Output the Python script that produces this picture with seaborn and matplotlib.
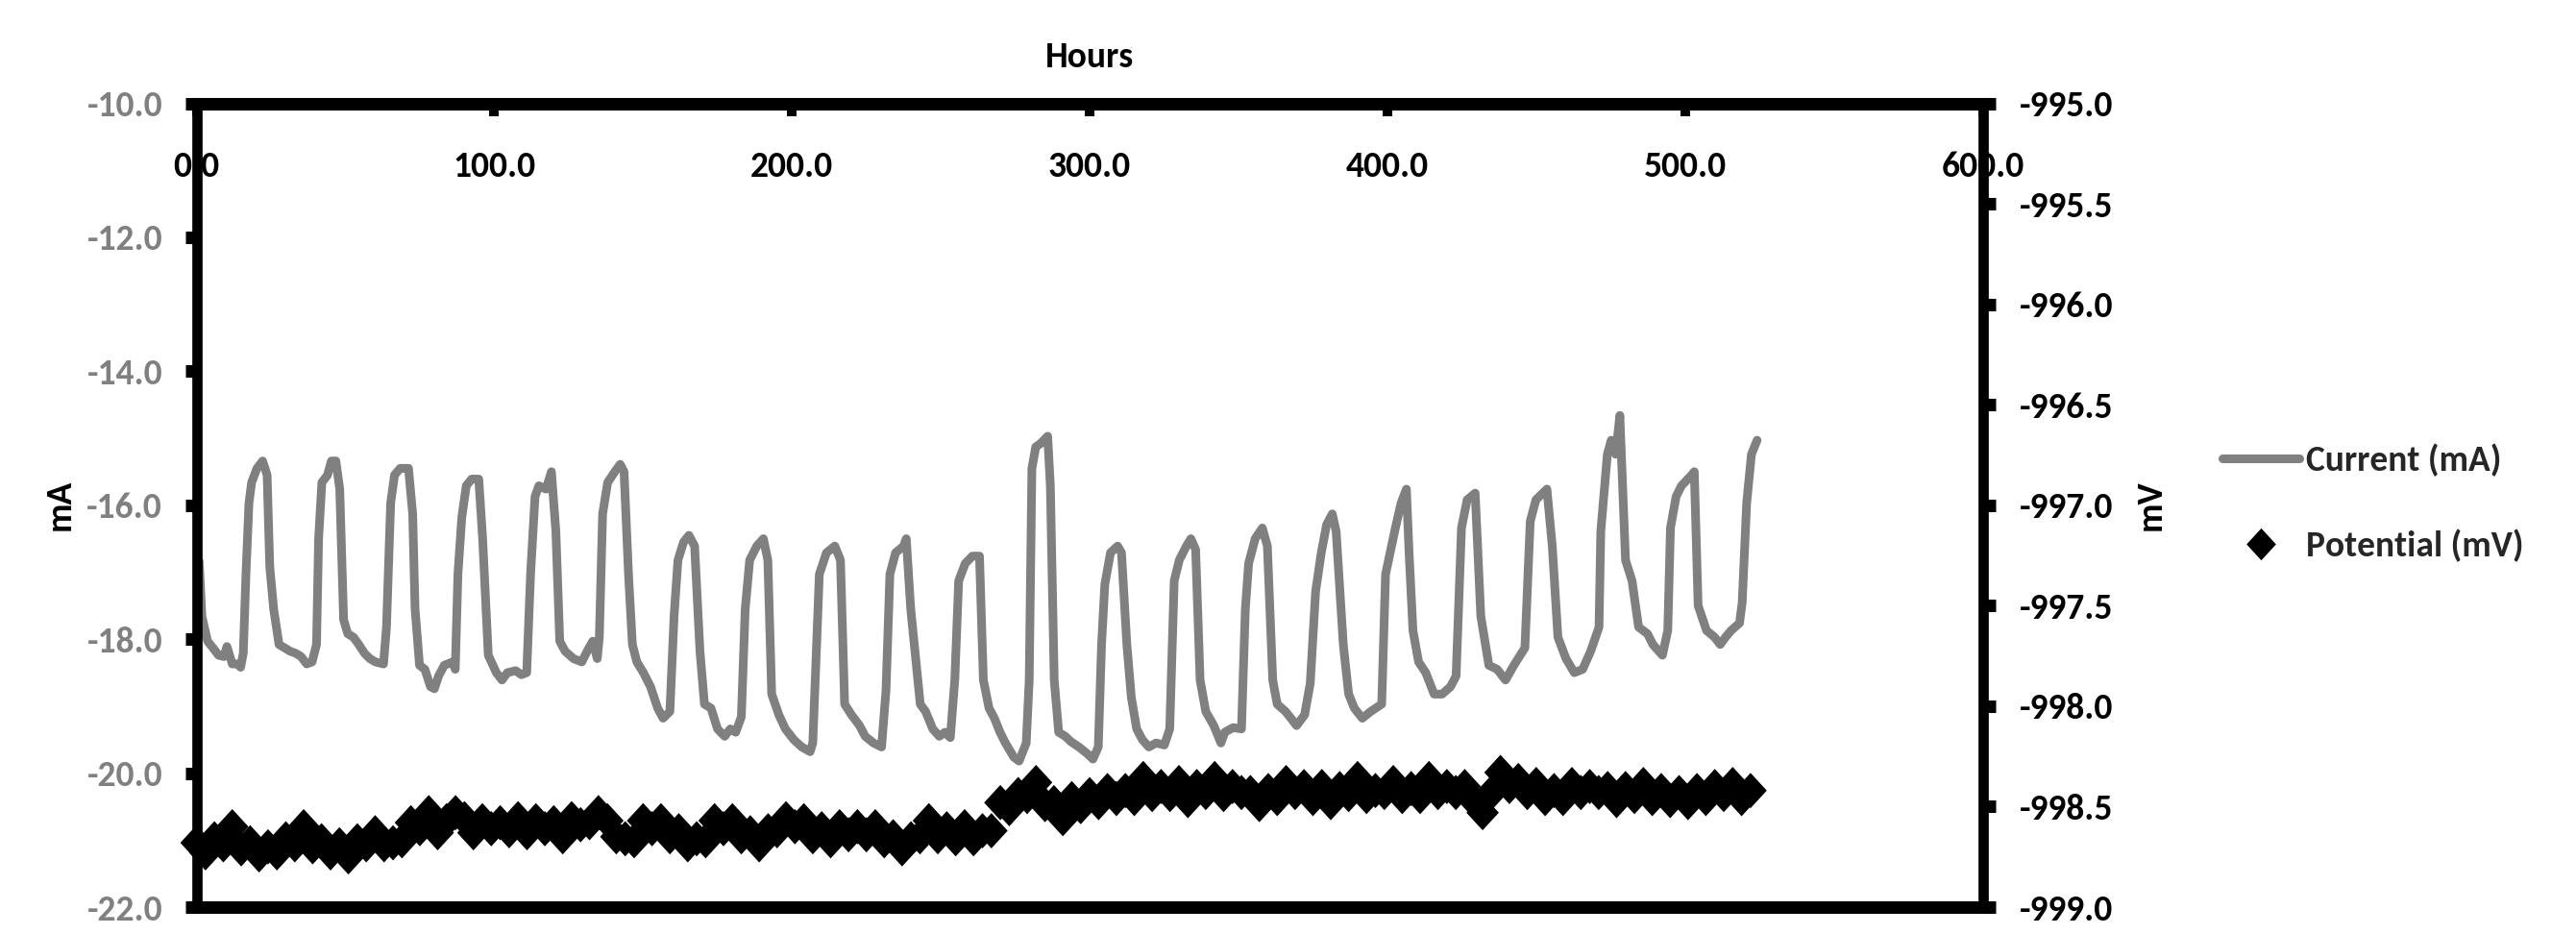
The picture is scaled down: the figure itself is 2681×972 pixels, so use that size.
import matplotlib
matplotlib.use("Agg")
import matplotlib.pyplot as plt
from matplotlib.lines import Line2D
from matplotlib.ticker import FormatStrFormatter
import seaborn as sns

# ── data ────────────────────────────────────────────────
current_hours = [
    0.9, 1.8, 3.7, 5.5, 7.4, 9.2, 10.2, 11.1, 12.0, 13.9,
    14.8, 15.7, 16.6, 17.6, 18.5, 20.3, 22.2, 23.7, 24.6, 25.9,
    27.7, 29.6, 31.4, 33.3, 35.1, 37.0, 38.8, 40.3, 41.0, 42.1,
    44.0, 45.3, 46.8, 48.1, 49.4, 50.8, 52.7, 54.5, 56.4, 58.2,
    60.1, 62.8, 63.8, 65.2, 66.5, 68.4, 71.2, 72.6, 73.4, 74.9,
    76.7, 78.6, 79.9, 81.3, 83.2, 86.0, 86.9, 87.8, 89.1, 90.6,
    92.4, 94.8, 96.1, 98.0, 100.7, 102.6, 104.4, 107.2, 109.1, 110.9,
    112.2, 113.7, 115.0, 117.4, 119.2, 120.7, 122.0, 123.8, 126.6, 129.4,
    131.2, 133.1, 134.6, 135.3, 136.4, 138.1, 140.5, 142.3, 143.6, 145.1,
    146.4, 147.9, 150.1, 152.5, 154.9, 156.7, 159.0, 160.4, 161.7, 163.6,
    165.4, 167.3, 169.1, 170.6, 172.8, 175.0, 177.4, 179.3, 181.1, 183.0,
    184.3, 185.8, 188.2, 190.4, 191.9, 193.2, 195.6, 197.8, 200.6, 203.3,
    206.1, 207.0, 208.3, 209.2, 211.6, 214.4, 216.3, 217.7, 220.0, 222.7,
    224.6, 227.4, 230.1, 231.6, 232.9, 234.8, 237.5, 238.4, 239.9, 243.1,
    244.9, 247.3, 249.5, 251.4, 253.2, 254.7, 256.0, 258.2, 260.6, 263.0,
    264.3, 266.2, 268.0, 269.9, 271.7, 274.5, 276.3, 278.7, 279.7, 280.6,
    281.9, 283.5, 285.9, 286.8, 288.1, 289.6, 291.8, 293.7, 296.4, 299.2,
    301.1, 302.9, 304.0, 305.1, 307.0, 309.4, 310.7, 312.5, 314.0, 315.8,
    317.7, 319.9, 322.3, 325.1, 326.9, 328.4, 330.1, 332.5, 334.0, 335.6,
    337.1, 339.0, 341.7, 344.1, 345.4, 348.2, 351.0, 352.3, 353.4, 355.6,
    358.0, 359.7, 361.5, 363.0, 365.8, 367.6, 369.5, 372.2, 374.1, 375.9,
    377.8, 379.6, 381.5, 382.8, 385.2, 387.0, 388.9, 391.6, 394.4, 398.1,
    399.4, 402.7, 404.6, 406.4, 407.3, 408.6, 410.5, 412.9, 415.7, 418.4,
    421.2, 423.1, 424.9, 426.8, 429.5, 431.4, 434.1, 436.9, 439.7, 442.5,
    446.2, 448.0, 449.9, 453.6, 455.4, 457.3, 460.0, 462.8, 465.6, 468.3,
    471.1, 471.7, 472.6, 473.9, 475.2, 476.7, 478.1, 480.0, 482.2, 484.4,
    487.4, 489.2, 492.4, 494.2, 495.1, 497.0, 498.8, 502.2, 503.1, 504.4,
    507.2, 509.9, 511.8, 513.6, 515.5, 518.3, 519.2, 520.7, 522.3, 524.2,
]
current_ma = [
    -16.84, -17.66, -18.03, -18.13, -18.24, -18.26, -18.11, -18.24, -18.37, -18.37,
    -18.42, -18.21, -17.03, -15.97, -15.66, -15.45, -15.34, -15.55, -16.92, -17.55,
    -18.08, -18.13, -18.18, -18.21, -18.26, -18.37, -18.34, -18.08, -16.50, -15.66,
    -15.55, -15.34, -15.34, -15.76, -17.71, -17.92, -17.97, -18.08, -18.21, -18.29,
    -18.34, -18.37, -17.82, -15.97, -15.55, -15.45, -15.45, -16.13, -17.55, -18.39,
    -18.45, -18.71, -18.74, -18.55, -18.39, -18.34, -18.45, -17.03, -16.18, -15.71,
    -15.61, -15.61, -16.50, -18.24, -18.50, -18.61, -18.50, -18.47, -18.53, -18.50,
    -17.03, -15.87, -15.71, -15.76, -15.50, -16.39, -18.03, -18.18, -18.29, -18.34,
    -18.18, -18.03, -18.29, -17.97, -16.13, -15.66, -15.50, -15.39, -15.50, -17.03,
    -18.08, -18.34, -18.50, -18.71, -19.03, -19.18, -19.08, -17.66, -16.82, -16.55,
    -16.45, -16.61, -18.18, -18.97, -19.03, -19.34, -19.45, -19.34, -19.39, -19.16,
    -17.55, -16.82, -16.61, -16.50, -16.82, -18.82, -19.13, -19.34, -19.50, -19.61,
    -19.68, -19.55, -18.08, -17.03, -16.71, -16.61, -16.82, -18.97, -19.13, -19.29,
    -19.45, -19.55, -19.61, -18.76, -17.03, -16.71, -16.61, -16.50, -17.55, -18.97,
    -19.08, -19.34, -19.45, -19.39, -19.47, -18.61, -17.13, -16.87, -16.76, -16.76,
    -18.61, -19.03, -19.18, -19.39, -19.55, -19.76, -19.82, -19.55, -18.61, -15.45,
    -15.13, -15.08, -14.97, -15.71, -18.61, -19.39, -19.45, -19.53, -19.61, -19.71,
    -19.79, -19.61, -18.08, -17.18, -16.71, -16.61, -16.71, -18.08, -18.87, -19.34,
    -19.50, -19.61, -19.55, -19.58, -19.34, -17.13, -16.82, -16.61, -16.50, -16.66,
    -18.61, -19.08, -19.29, -19.55, -19.39, -19.32, -19.34, -17.55, -16.87, -16.50,
    -16.34, -16.61, -18.61, -18.97, -19.08, -19.18, -19.29, -19.13, -18.66, -17.29,
    -16.71, -16.29, -16.13, -16.39, -18.08, -18.82, -19.03, -19.18, -19.08, -18.97,
    -17.03, -16.34, -15.97, -15.76, -16.71, -17.87, -18.34, -18.50, -18.82, -18.82,
    -18.71, -18.55, -16.34, -15.92, -15.82, -17.66, -18.39, -18.45, -18.61, -18.39,
    -18.13, -16.24, -15.92, -15.76, -16.61, -17.97, -18.29, -18.50, -18.45, -18.18,
    -17.82, -16.39, -15.92, -15.24, -15.03, -15.24, -14.66, -16.82, -17.13, -17.82,
    -17.92, -18.08, -18.24, -17.87, -16.34, -15.87, -15.71, -15.55, -15.50, -17.50,
    -17.87, -17.97, -18.08, -17.97, -17.87, -17.76, -17.45, -15.97, -15.24, -15.03,
]

# potential logged every 3 h, 0 .. 522 h
potential_hours = list(range(0, 523, 3))
potential_mv = [
    -998.68, -998.73, -998.66, -998.69, -998.60, -998.71, -998.68, -998.74, -998.70, -998.73,
    -998.66, -998.69, -998.60, -998.70, -998.67, -998.73, -998.69, -998.75, -998.67, -998.69,
    -998.63, -998.69, -998.68, -998.67, -998.58, -998.61, -998.53, -998.63, -998.57, -998.53,
    -998.56, -998.63, -998.57, -998.61, -998.58, -998.62, -998.56, -998.63, -998.57, -998.61,
    -998.58, -998.65, -998.56, -998.59, -998.58, -998.53, -998.57, -998.65, -998.66, -998.67,
    -998.57, -998.61, -998.57, -998.65, -998.62, -998.69, -998.66, -998.67, -998.57, -998.61,
    -998.57, -998.65, -998.63, -998.69, -998.62, -998.62, -998.56, -998.60, -998.57, -998.65,
    -998.61, -998.67, -998.60, -998.64, -998.60, -998.64, -998.60, -998.67, -998.65, -998.71,
    -998.66, -998.65, -998.57, -998.65, -998.61, -998.66, -998.60, -998.66, -998.62, -998.62,
    -998.48, -998.51, -998.44, -998.45, -998.38, -998.49, -998.48, -998.56, -998.46, -998.50,
    -998.44, -998.48, -998.42, -998.46, -998.42, -998.46, -998.36, -998.44, -998.40, -998.44,
    -998.38, -998.47, -998.40, -998.43, -998.36, -998.44, -998.40, -998.43, -998.43, -998.49,
    -998.42, -998.46, -998.38, -998.43, -998.40, -998.46, -998.40, -998.48, -998.41, -998.44,
    -998.36, -998.45, -998.42, -998.43, -998.38, -998.45, -998.41, -998.45, -998.36, -998.43,
    -998.40, -998.43, -998.40, -998.47, -998.53, -998.43, -998.33, -998.40, -998.37, -998.43,
    -998.39, -998.46, -998.42, -998.46, -998.39, -998.43, -998.40, -998.43, -998.41, -998.47,
    -998.41, -998.45, -998.39, -998.46, -998.42, -998.47, -998.43, -998.48, -998.42, -998.46,
    -998.40, -998.44, -998.39, -998.46, -998.42,
]

hour_ticks = [0, 100, 200, 300, 400, 500, 600]
ma_ticks = [-22, -20, -18, -16, -14, -12, -10]
mv_ticks = [-999.0, -998.5, -998.0, -997.5, -997.0, -996.5, -996.0, -995.5, -995.0]
series_labels = ["Current (mA)", "Potential (mV)"]

# ── style ───────────────────────────────────────────────
sns.set_theme(style="ticks")
plt.rcParams["font.family"] = ["Carlito", "Lato", "DejaVu Sans"]
plt.rcParams["font.weight"] = "heavy"

GRAY = "#808080"
FS = 27
DIAMOND = [(0, 1), (0.92, 0), (0, -1), (-0.92, 0)]

fig = plt.figure(figsize=(26.81, 9.72), dpi=100)
ax = fig.add_axes([0.0763, 0.0288, 0.6934, 0.8606])
ax2 = ax.twinx()

sns.lineplot(x=current_hours, y=current_ma, ax=ax, color=GRAY,
             linewidth=6.5, legend=False)
for ln in ax.lines:
    ln.set_linewidth(6.5)
    ln.set_solid_joinstyle("round")
    ln.set_solid_capstyle("round")

sns.scatterplot(x=potential_hours, y=potential_mv, ax=ax2, marker=DIAMOND,
                s=700, color="black", edgecolor="none", linewidth=0,
                clip_on=False, legend=False)

# ── axes ────────────────────────────────────────────────
ax.set_xlim(0, 600)
ax.set_xticks(hour_ticks)
ax.xaxis.set_major_formatter(FormatStrFormatter("%.1f"))
ax.xaxis.tick_top()
ax.tick_params(axis="x", top=True, bottom=False, labeltop=True, labelbottom=False,
               direction="in", length=9, width=7.2, color="black",
               labelsize=FS, labelcolor="black", pad=-47.2)
for lab in ax.get_xticklabels():
    lab.set_verticalalignment("center")

ax.set_ylim(-22, -10)
ax.set_yticks(ma_ticks)
ax.yaxis.set_major_formatter(FormatStrFormatter("%.1f"))
ax.tick_params(axis="y", left=True, right=False, direction="out", length=8.3,
               width=9.4, color="black", labelsize=FS, labelcolor=GRAY, pad=17.3)

ax2.set_ylim(-999, -995)
ax2.set_yticks(mv_ticks)
ax2.yaxis.set_major_formatter(FormatStrFormatter("%.1f"))
ax2.tick_params(axis="y", right=True, left=False, direction="out", length=9.7,
                width=9.4, color="black", labelsize=FS, labelcolor="black", pad=18)

for s in ("top", "bottom"):
    ax.spines[s].set_linewidth(9.4)
    ax.spines[s].set_color("black")
ax.spines["left"].set_linewidth(7.7)
ax.spines["left"].set_color("black")
ax.spines["right"].set_visible(False)
for s in ("left", "top", "bottom"):
    ax2.spines[s].set_visible(False)
ax2.spines["right"].set_linewidth(7.7)
ax2.spines["right"].set_color("black")

ax.set_xlabel("Hours", fontsize=FS, fontweight="heavy", color="black")
ax.xaxis.set_label_position("top")
ax.xaxis.set_label_coords(0.5, 1.0448)
ax.set_ylabel("mA", fontsize=FS, fontweight="heavy", color="black")
ax.yaxis.set_label_coords(-0.0675, 0.5)
ax2.set_ylabel("mV", fontsize=FS, fontweight="heavy", color="black")
ax2.yaxis.set_label_coords(1.0848, 0.5)

handles = [
    Line2D([], [], color=GRAY, lw=6.5, solid_capstyle="round"),
    Line2D([], [], ls="none", marker=DIAMOND, markersize=24,
           markerfacecolor="black", markeredgewidth=0),
]
fig.legend(handles, series_labels, loc="center left", bbox_to_anchor=(0.8627, 0.4619),
           frameon=False, fontsize=FS, handlelength=2.13, handletextpad=0.19,
           labelspacing=1.45, borderpad=0, borderaxespad=0)

fig.savefig("out.png", dpi=100)
plt.close(fig)
